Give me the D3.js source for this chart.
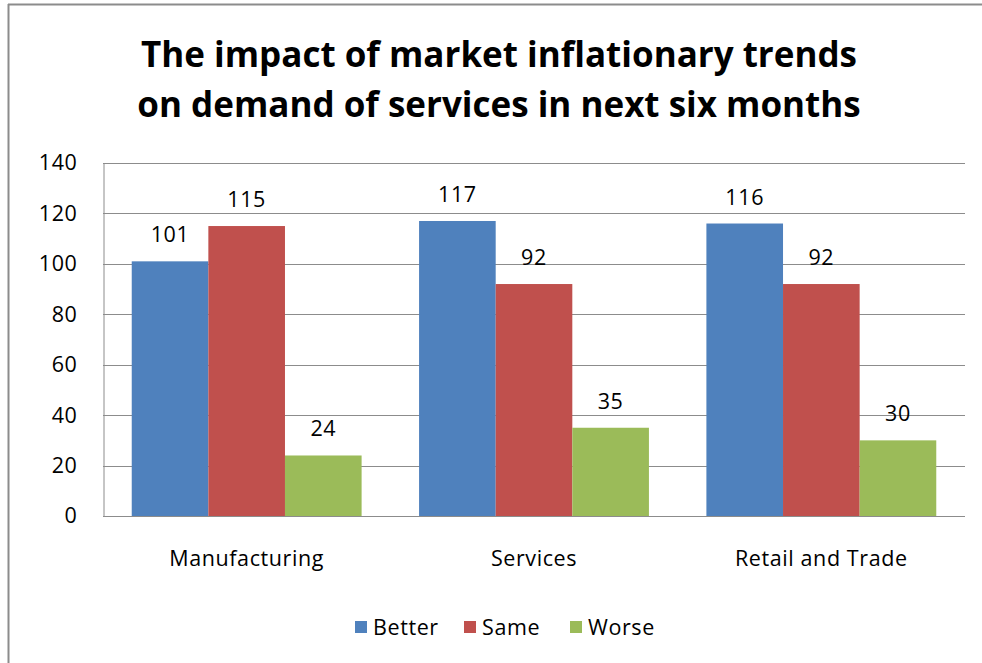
<!DOCTYPE html>
<html>
<head>
<meta charset="utf-8">
<script src="https://cdn.jsdelivr.net/npm/d3@7"></script>
<style>
  html, body { margin: 0; padding: 0; background: #fff; }
  svg { display: block; }
  text { font-family: "Open Sans", "Noto Sans", sans-serif; }
  .lbl { letter-spacing: 0.6px; }
</style>
</head>
<body>
<svg id="chart" width="982" height="663"></svg>
<script>
// Survey results: expected demand for services, by sector
const categories = ["Manufacturing", "Services", "Retail and Trade"];
const seriesNames = ["Better", "Same", "Worse"];
const better = [101, 117, 116];
const same = [115, 92, 92];
const worse = [24, 35, 30];
const yTicks = [0, 20, 40, 60, 80, 100, 120, 140];
const titleLines = ["The impact of market inflationary trends", "on demand of services in next six months"];
const colors = ["#4F81BD", "#C0504D", "#9BBB59"];

const seriesValues = [better, same, worse];
const FONT = 21.5;

const svg = d3.select("#chart");
const W = 982, H = 663;

// Chart frame (top and left edges visible)
svg.append("line").attr("x1", 8).attr("x2", W).attr("y1", 4.5).attr("y2", 4.5)
  .attr("stroke", "#8c8c8c").attr("stroke-width", 2);
svg.append("line").attr("x1", 8.5).attr("x2", 8.5).attr("y1", 4).attr("y2", H)
  .attr("stroke", "#8c8c8c").attr("stroke-width", 2);

// Title
const title = svg.append("text")
  .attr("text-anchor", "middle")
  .attr("font-weight", "bold")
  .attr("font-size", 35)
  .attr("fill", "#000");
titleLines.forEach((t, i) => {
  title.append("tspan").attr("x", 499).attr("y", 67 + i * 50).text(t);
});

const plot = { left: 103, right: 965, top: 163, bottom: 516 };

const y = d3.scaleLinear().domain([0, 140]).range([plot.bottom, plot.top]);
const x0 = d3.scaleBand().domain(categories).range([plot.left, plot.right])
  .paddingInner(0.2).paddingOuter(0.1);
const x1 = d3.scaleBand().domain(seriesNames).range([0, x0.bandwidth()]);

// Gridlines
svg.append("g")
  .selectAll("line").data(yTicks).join("line")
  .attr("x1", plot.left).attr("x2", plot.right)
  .attr("y1", d => Math.round(y(d)) + 0.5).attr("y2", d => Math.round(y(d)) + 0.5)
  .attr("stroke", "#8c8c8c").attr("stroke-width", 1);

// Y axis
const yAxis = svg.append("g")
  .attr("transform", `translate(${plot.left + 0.5},0)`)
  .call(d3.axisLeft(y).tickValues(yTicks).tickSize(0).tickPadding(26));
yAxis.select(".domain").attr("stroke", "#8c8c8c");
yAxis.selectAll("text").attr("class", "lbl").attr("font-size", FONT).attr("fill", "#000")
  .attr("font-family", "'Open Sans', 'Noto Sans', sans-serif");

// Bars
const groups = svg.append("g").selectAll("g").data(categories).join("g")
  .attr("transform", d => `translate(${x0(d)},0)`);

groups.selectAll("rect")
  .data((c, ci) => seriesNames.map((s, si) => ({ s, v: seriesValues[si][ci], si })))
  .join("rect")
  .attr("x", d => x1(d.s))
  .attr("y", d => y(d.v))
  .attr("width", x1.bandwidth())
  .attr("height", d => y(0) - y(d.v))
  .attr("fill", d => colors[d.si]);

// Value labels
groups.selectAll("text.val")
  .data((c, ci) => seriesNames.map((s, si) => ({ s, v: seriesValues[si][ci], si })))
  .join("text")
  .attr("class", "val lbl")
  .attr("x", d => x1(d.s) + x1.bandwidth() / 2)
  .attr("y", d => y(d.v) - 19)
  .attr("text-anchor", "middle")
  .attr("font-size", FONT)
  .attr("fill", "#000")
  .text(d => d.v);

// Baseline axis line
svg.append("line")
  .attr("x1", plot.left).attr("x2", plot.right)
  .attr("y1", Math.round(y(0)) + 0.5).attr("y2", Math.round(y(0)) + 0.5)
  .attr("stroke", "#8c8c8c");

// Category labels
svg.append("g").selectAll("text").data(categories).join("text")
  .attr("class", "lbl")
  .attr("x", d => x0(d) + x0.bandwidth() / 2)
  .attr("y", 566)
  .attr("text-anchor", "middle")
  .attr("font-size", FONT)
  .attr("fill", "#000")
  .text(d => d);

// Legend
const legendX = [355, 464, 570];
const legend = svg.append("g").selectAll("g").data(seriesNames).join("g")
  .attr("transform", (d, i) => `translate(${legendX[i]},621)`);
legend.append("rect").attr("width", 12).attr("height", 12)
  .attr("fill", (d, i) => colors[i]);
legend.append("text").attr("class", "lbl").attr("x", 18).attr("y", 13.5)
  .attr("font-size", FONT).attr("fill", "#000").text(d => d);
</script>
</body>
</html>
